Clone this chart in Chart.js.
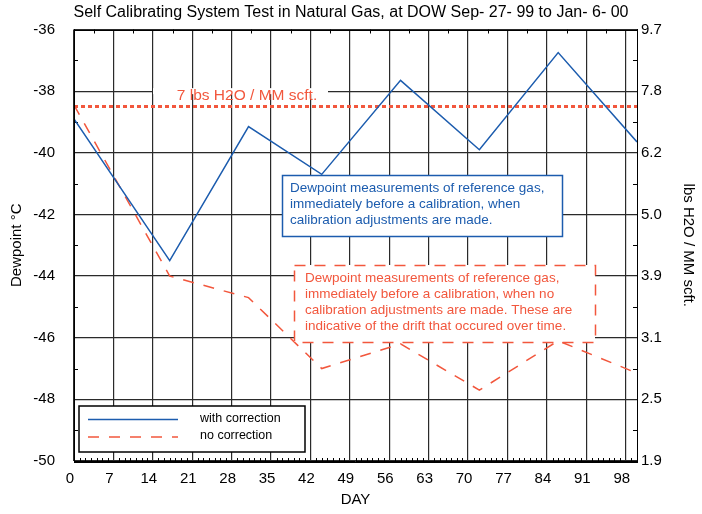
<!DOCTYPE html>
<html>
<head>
<meta charset="utf-8">
<script src="https://cdn.jsdelivr.net/npm/chart.js@4.4.1/dist/chart.umd.min.js"></script>
<style>
  html, body { margin: 0; padding: 0; background: #fff; }
  #wrap { width: 702px; height: 514px; }
</style>
</head>
<body>
<div id="wrap"><canvas id="dewChart" width="702" height="514"></canvas></div>
<script>
// Data
var days = [0, 17, 31, 44, 58, 72, 86, 100];
var withCorrection = [-38.9, -43.5, -39.15, -40.7, -37.65, -39.9, -36.75, -39.65];
var noCorrection = [-38.45, -44.0, -44.7, -47.0, -46.2, -47.7, -46.1, -47.15];
var limitDays = [0, 100];
var limitLevel = [-38.5, -38.5];

// Axes
var xTicks = [0, 7, 14, 21, 28, 35, 42, 49, 56, 63, 70, 77, 84, 91, 98];
var yTicks = [-50, -48, -46, -44, -42, -40, -38, -36];
var rightTickLabels = ['1.9', '2.5', '3.1', '3.9', '5.0', '6.2', '7.8', '9.7'];

// Texts
var titleText = 'Self Calibrating System Test in Natural Gas, at DOW Sep- 27- 99 to Jan- 6- 00';
var limitText = '7 lbs H2O / MM scft.';
var blueNote = ['Dewpoint measurements of reference gas,', 'immediately before a calibration, when', 'calibration adjustments are made.'];
var redNote = ['Dewpoint measurements of reference gas,', 'immediately before a calibration, when no', 'calibration adjustments are made. These are', 'indicative of the drift that occured over time.'];

var BLUE = '#1c5cae';
var RED = '#f2573d';
var FONT = '"Liberation Sans", Arial, sans-serif';

var toPoints = function (xs, ys) {
    return xs.map(function (x, i) { return { x: x, y: ys[i] }; });
};

var decor = {
    id: 'decor',
    beforeDatasetsDraw: function (chart) {
        var ctx = chart.ctx;
        var a = chart.chartArea;
        var xs = chart.scales.x, ys = chart.scales.y;
        ctx.save();
        // white gap in the -38 grid line behind the limit label
        var gy = ys.getPixelForValue(-38);
        ctx.fillStyle = '#fff';
        ctx.fillRect(153, gy - 3, 175, 6);

        // minor ticks, pointing inward
        ctx.strokeStyle = '#000';
        ctx.lineWidth = 1;
        ctx.beginPath();
        for (var d = 1; d < 100; d++) {
            if (d % 7 === 0) continue;
            var px = Math.round(xs.getPixelForValue(d)) + 0.5;
            ctx.moveTo(px, a.bottom);
            ctx.lineTo(px, a.bottom - 3);
        }
        for (var h = 3.5; h < 100; h += 7) {
            var tx = Math.round(xs.getPixelForValue(h)) + 0.5;
            ctx.moveTo(tx, a.top);
            ctx.lineTo(tx, a.top + 4);
        }
        for (var v = -49; v < -36; v += 2) {
            var py = Math.round(ys.getPixelForValue(v)) + 0.5;
            ctx.moveTo(a.left, py);
            ctx.lineTo(a.left + 4, py);
            ctx.moveTo(a.right, py);
            ctx.lineTo(a.right - 4, py);
        }
        ctx.stroke();
        ctx.restore();
    },
    afterDatasetsDraw: function (chart) {
        var ctx = chart.ctx;
        var a = chart.chartArea;
        ctx.save();

        // frame
        ctx.strokeStyle = '#000';
        ctx.lineWidth = 1;
        ctx.strokeRect(Math.round(a.left) + 0.5, Math.round(a.top) + 0.5,
            Math.round(a.right - a.left), Math.round(a.bottom - a.top));

        // limit label
        ctx.fillStyle = RED;
        ctx.font = '15.5px ' + FONT;
        ctx.textAlign = 'center';
        ctx.textBaseline = 'middle';
        ctx.fillText(limitText, 247, 96);

        // blue note
        ctx.textAlign = 'left';
        ctx.font = '13.5px ' + FONT;
        ctx.fillStyle = '#fff';
        ctx.fillRect(282, 175, 280, 61);
        ctx.strokeStyle = BLUE;
        ctx.lineWidth = 1.5;
        ctx.strokeRect(282.5, 175.5, 280, 61);
        ctx.fillStyle = BLUE;
        blueNote.forEach(function (line, i) {
            ctx.fillText(line, 290, 188.5 + i * 16);
        });

        // red note
        ctx.fillStyle = '#fff';
        ctx.fillRect(294, 265, 301, 77);
        ctx.strokeStyle = RED;
        ctx.setLineDash([11, 9]);
        ctx.strokeRect(294.5, 265.5, 301, 77);
        ctx.setLineDash([]);
        ctx.fillStyle = RED;
        redNote.forEach(function (line, i) {
            ctx.fillText(line, 305, 278.5 + i * 16);
        });

        // legend
        ctx.fillStyle = '#fff';
        ctx.fillRect(79, 406, 226, 46);
        ctx.strokeStyle = '#000';
        ctx.lineWidth = 1.5;
        ctx.strokeRect(79, 406, 226, 46);
        var ds = chart.data.datasets;
        [0, 1].forEach(function (k, i) {
            var y = 419.5 + i * 17.5;
            ctx.strokeStyle = ds[k].borderColor;
            ctx.lineWidth = 1.5;
            ctx.setLineDash(ds[k].borderDash || []);
            ctx.beginPath();
            ctx.moveTo(88, y);
            ctx.lineTo(178, y);
            ctx.stroke();
            ctx.setLineDash([]);
            ctx.fillStyle = '#000';
            ctx.font = '12.5px ' + FONT;
            ctx.fillText(ds[k].label, 200, y - 1);
        });
        ctx.restore();
    }
};

Chart.defaults.font.family = FONT;
Chart.defaults.color = '#000';

var ctx = document.getElementById('dewChart').getContext('2d');
var chart = new Chart(ctx, {
    type: 'line',
    data: {
        datasets: [
            {
                label: 'with correction',
                data: toPoints(days, withCorrection),
                borderColor: BLUE,
                borderWidth: 1.5,
                pointRadius: 0,
                tension: 0
            },
            {
                label: 'no correction',
                data: toPoints(days, noCorrection),
                borderColor: RED,
                borderWidth: 1.5,
                borderDash: [11, 10],
                pointRadius: 0,
                tension: 0
            },
            {
                label: '7 lbs',
                data: toPoints(limitDays, limitLevel),
                borderColor: RED,
                borderWidth: 3,
                borderDash: [4, 3],
                pointRadius: 0
            }
        ]
    },
    options: {
        responsive: false,
        animation: false,
        layout: { padding: 0 },
        plugins: {
            legend: { display: false },
            tooltip: { enabled: false },
            title: {
                display: true,
                text: titleText,
                color: '#000',
                font: { size: 16, weight: 'normal' },
                padding: { top: 3, bottom: 7.3 }
            }
        },
        scales: {
            x: {
                type: 'linear',
                min: 0,
                max: 100,
                afterBuildTicks: function (s) { s.ticks = xTicks.map(function (v) { return { value: v }; }); },
                afterFit: function (s) { s.height = 53; },
                grid: { color: '#2a2a2a', lineWidth: 1.2, drawTicks: false },
                border: { display: true, color: '#000' },
                ticks: { padding: 9, labelOffset: -4, font: { size: 15 }, color: '#000', autoSkip: false, maxRotation: 0 },
                title: { display: true, text: 'DAY', font: { size: 15 }, color: '#000', padding: { top: 0, bottom: 5 } }
            },
            y: {
                position: 'left',
                min: -50,
                max: -36,
                afterBuildTicks: function (s) { s.ticks = yTicks.map(function (v) { return { value: v }; }); },
                afterFit: function (s) { s.width = 74; },
                grid: { color: '#2a2a2a', lineWidth: 1.2, drawTicks: false },
                border: { display: true, color: '#000' },
                ticks: { padding: 19, font: { size: 15 }, color: '#000' },
                title: { display: true, text: 'Dewpoint °C', font: { size: 15 }, color: '#000', padding: { top: 8, bottom: 0 } }
            },
            y2: {
                position: 'right',
                min: -50,
                max: -36,
                afterBuildTicks: function (s) { s.ticks = yTicks.map(function (v) { return { value: v }; }); },
                afterFit: function (s) { s.width = 65; },
                grid: { display: false, drawTicks: false },
                border: { display: true, color: '#000' },
                ticks: {
                    padding: 4,
                    font: { size: 15 },
                    color: '#000',
                    callback: function (v, i) { return rightTickLabels[i]; }
                },
                title: { display: true, text: 'lbs H2O / MM scft.', font: { size: 15 }, color: '#000', padding: { top: 5, bottom: 0 } }
            }
        }
    },
    plugins: [decor]
});
</script>
</body>
</html>
